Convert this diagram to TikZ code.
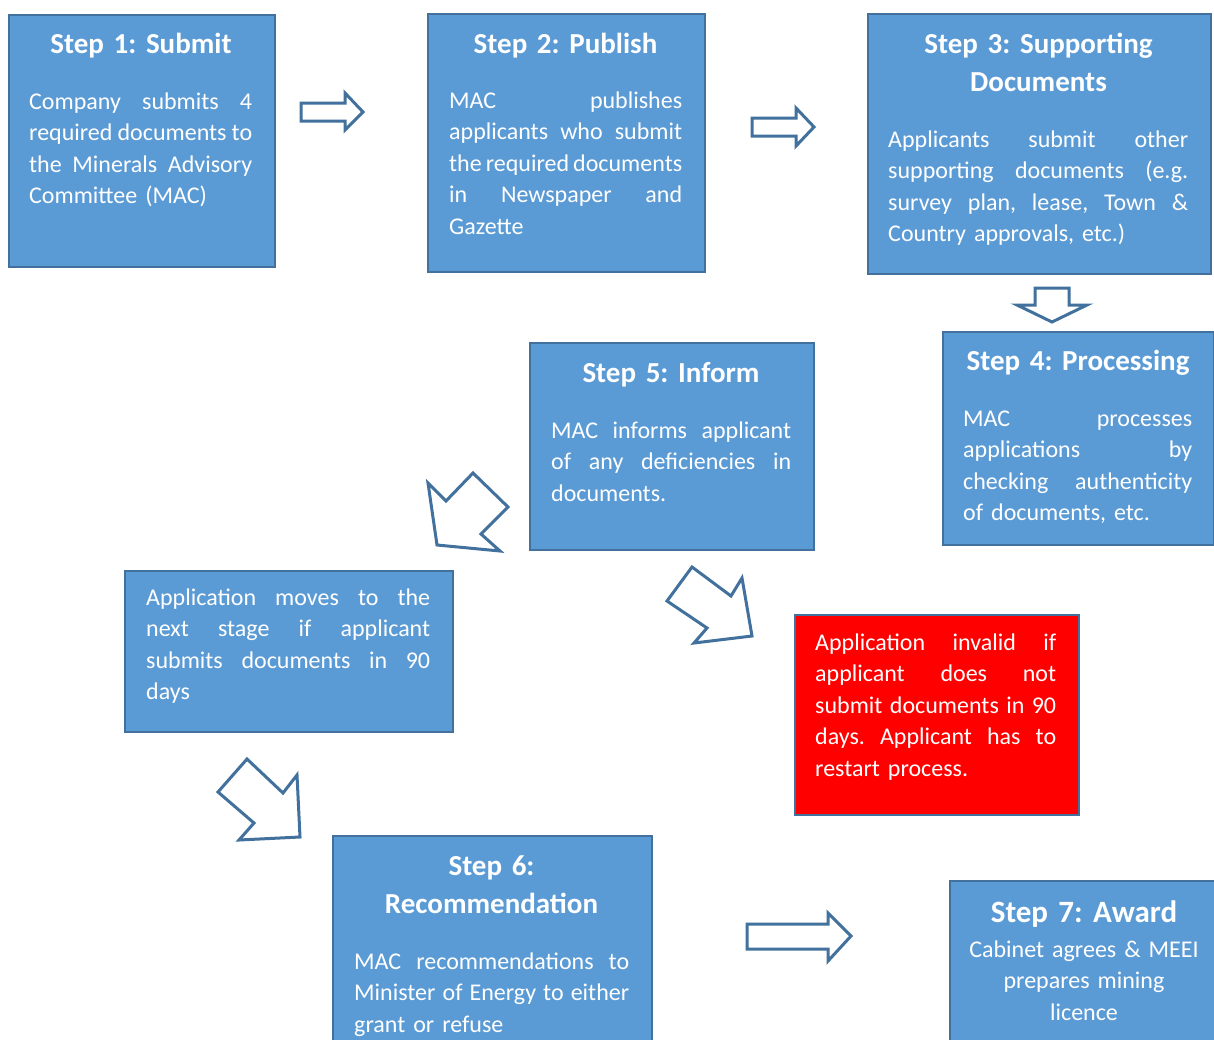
\documentclass[tikz,border=0pt]{standalone}
\usepackage{fontspec}
\setmainfont{Carlito}
\frenchspacing
\definecolor{boxfill}{HTML}{5B9BD5}
\definecolor{boxline}{HTML}{41719C}
\definecolor{arrline}{HTML}{41719C}
\newcommand\jl[2]{\makebox[#1pt][s]{\spaceskip=0.226em plus 1fil minus 0.12em\relax#2}}
\tikzset{
  box/.style={draw=boxline, line width=2pt, fill=boxfill, anchor=north west, inner sep=0pt},
  redbox/.style={box, fill=red},
  ttl/.style={text=white, font=\fontsize{29}{38}\selectfont\bfseries\frenchspacing, align=center, anchor=base, inner sep=0pt},
  bdy/.style={text=white, font=\fontsize{24}{31.5}\selectfont\frenchspacing, align=left, anchor=base west, inner sep=0pt},
  bdyc/.style={text=white, font=\fontsize{24}{31.5}\selectfont\frenchspacing, align=center, anchor=base, inner sep=0pt},
  blk/.style={draw=arrline, line width=3pt, fill=white, line join=miter},
}
\begin{document}
\begin{tikzpicture}[x=1pt, y=-1pt]
\fill[white] (0,0) rectangle (1214,1039);
\clip (0,0) rectangle (1214,1039);

% Step 1
\node[box, minimum width=266, minimum height=252] (b1) at (8,14) {};
\node[ttl, text width=260] (t1) at (141,53) {Step 1: Submit};
\node[bdy, text width=230] (d1) at (29,109) {\jl{223}{Company submits 4}\\\jl{223}{required documents to}\\\jl{223}{the Minerals Advisory}\\Committee (MAC)};

% Step 2
\node[box, minimum width=277, minimum height=258] (b2) at (427,13) {};
\node[ttl, text width=270] (t2) at (565.5,53) {Step 2: Publish};
\node[bdy, text width=240] (d2) at (449,108) {\jl{233}{MAC publishes}\\\jl{233}{applicants who submit}\\\jl{233}{the required documents}\\\jl{233}{in Newspaper and}\\Gazette};

% Step 3
\node[box, minimum width=343, minimum height=260] (b3) at (867,13) {};
\node[ttl, text width=330] (t3) at (1038.5,53) {Step 3: Supporting\\Documents};
\node[bdy, text width=310] (d3) at (888,147) {\jl{300}{Applicants submit other}\\\jl{300}{supporting documents (e.g.}\\\jl{300}{survey plan, lease, Town \&}\\Country approvals, etc.)};

% Step 4
\node[box, minimum width=271, minimum height=213] (b4) at (942,331) {};
\node[ttl, text width=265] (t4) at (1078,370) {Step 4: Processing};
\node[bdy, text width=235] (d4) at (963,426) {\jl{229}{MAC processes}\\\jl{229}{applications by}\\\jl{229}{checking authenticity}\\of documents, etc.};

% Step 5
\node[box, minimum width=284, minimum height=207] (b5) at (529,342) {};
\node[ttl, text width=280] (t5) at (671,382) {Step 5: Inform};
\node[bdy, text width=250] (d5) at (551,438) {\jl{240}{MAC informs applicant}\\\jl{240}{of any deficiencies in}\\documents.};

% Moves on
\node[box, minimum width=328, minimum height=161] (b6) at (124,570) {};
\node[bdy, text width=290] (d6) at (146,605) {\jl{284}{Application moves to the}\\\jl{284}{next stage if applicant}\\\jl{284}{submits documents in 90}\\days};

% Invalid
\node[redbox, minimum width=284, minimum height=200] (br) at (794,614) {};
\node[bdy, text width=250] (dr) at (815,650) {\jl{241}{Application invalid if}\\\jl{241}{applicant does not}\\\jl{241}{submit documents in 90}\\\jl{241}{days. Applicant has to}\\restart process.};

% Step 6
\node[box, minimum width=319, minimum height=240] (bs6) at (332,835) {};
\node[ttl, text width=310] (ts6) at (491.5,875) {Step 6:\\Recommendation};
\node[bdy, text width=285] (ds6) at (354,969) {\jl{275}{MAC recommendations to}\\\jl{275}{Minister of Energy to either}\\grant or refuse};

% Step 7
\node[box, minimum width=275, minimum height=200] (b7) at (949,880) {};
\node[ttl, text width=270, font=\fontsize{31}{38}\selectfont\bfseries\frenchspacing] (t7) at (1084,922) {Step 7: Award};
\node[bdyc, text width=270] (d7) at (1084,957) {Cabinet agrees \& MEEI\\prepares mining\\licence};

% block arrows
\draw[blk] (301,103) -- (345,103) -- (345,93) -- (363,112) -- (345,130) -- (345,121) -- (301,121) -- cycle;
\draw[blk] (752,118) -- (796,118) -- (796,108) -- (814,127) -- (796,146) -- (796,136) -- (752,136) -- cycle;
\draw[blk] (1035,288) -- (1069,288) -- (1069,305) -- (1087,305) -- (1052,322) -- (1017,305) -- (1035,305) -- cycle;
\draw[blk] (437,545) -- (428,483) -- (446,501) -- (473,473) -- (508,507) -- (481,534) -- (500,551) -- cycle;
\draw[blk] (692,567) -- (731,596) -- (742,578) -- (752,636) -- (694,643) -- (707,628) -- (667,601) -- cycle;
\draw[blk] (247,759) -- (283,793) -- (297,775) -- (300,837) -- (239,840) -- (254,823) -- (218,792) -- cycle;
\draw[blk] (747,924) -- (828,924) -- (828,913) -- (851,936) -- (828,961) -- (828,949) -- (747,949) -- cycle;
\end{tikzpicture}
\end{document}
